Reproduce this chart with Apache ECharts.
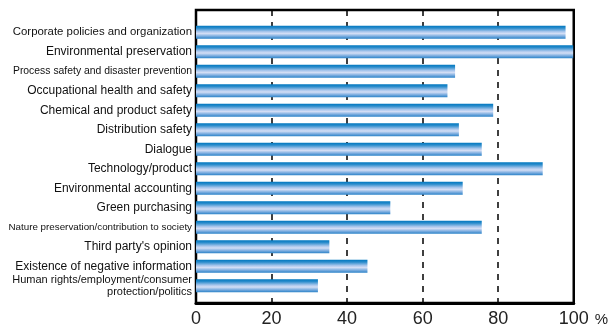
<!DOCTYPE html>
<html>
<head>
<meta charset="utf-8">
<script src="https://cdn.jsdelivr.net/npm/echarts@6/dist/echarts.min.js"></script>
<style>
  html, body { margin: 0; padding: 0; background: #ffffff; }
  #chart { width: 611px; height: 328px; }
</style>
</head>
<body>
<div id="chart"></div>
<script>
// Survey items, listed top to bottom
const categories = [
  'Corporate policies and organization',
  'Environmental preservation',
  'Process safety and disaster prevention',
  'Occupational health and safety',
  'Chemical and product safety',
  'Distribution safety',
  'Dialogue',
  'Technology/product',
  'Environmental accounting',
  'Green purchasing',
  'Nature preservation/contribution to society',
  "Third party's opinion",
  'Existence of negative information',
  'Human rights/employment/consumer\nprotection/politics'
];

// Share of reports covering each item (%)
const values = [97, 99, 68, 66, 78, 69, 75, 91, 70, 51, 75, 35, 45, 32];

// Percentage axis ticks
const xTicks = [0, 20, 40, 60, 80, 100];

// Long item names are set in a smaller type so they fit the label column
const labelSizes = {
  'Corporate policies and organization': 11.4,
  'Process safety and disaster prevention': 10.4,
  'Nature preservation/contribution to society': 9.8,
  'Human rights/employment/consumer\nprotection/politics': 11
};

const chart = echarts.init(document.getElementById('chart'), null, { renderer: 'canvas' });

const rich = {};
const styleKey = {};
categories.forEach((c, i) => {
  const key = 's' + i;
  styleKey[c] = key;
  const size = labelSizes[c] || 12;
  rich[key] = {
    fontFamily: 'Liberation Sans, Arial, sans-serif',
    fontSize: size,
    lineHeight: size + 1.5,
    color: '#111',
    align: 'right'
  };
});

const barGradient = new echarts.graphic.LinearGradient(0, 0, 0, 1, [
  { offset: 0, color: '#0077bf' },
  { offset: 0.18, color: '#2a8ccc' },
  { offset: 0.45, color: '#a9c6ec' },
  { offset: 0.6, color: '#d3def5' },
  { offset: 0.8, color: '#7eaee0' },
  { offset: 1, color: '#2a82c8' }
]);

chart.setOption({
  animation: false,
  backgroundColor: '#ffffff',
  grid: [
    // frame, percentage axis and dashed guides
    { left: 196, right: 34, top: 10, bottom: 20, show: true, borderColor: '#000', borderWidth: 2.5, backgroundColor: 'transparent' },
    // bar band, inset from the frame
    { left: 196, right: 34, top: 22.5, bottom: 32.5 }
  ],
  xAxis: [
    {
      gridIndex: 0,
      type: 'value',
      min: xTicks[0],
      max: xTicks[xTicks.length - 1],
      interval: xTicks[1] - xTicks[0],
      axisLine: { show: true, lineStyle: { color: '#000', width: 3 } },
      axisTick: { show: false },
      axisLabel: {
        margin: 7,
        fontFamily: 'Liberation Sans, Arial, sans-serif',
        fontSize: 18,
        color: '#222'
      },
      splitLine: {
        show: true,
        showMinLine: false,
        showMaxLine: false,
        lineStyle: { color: '#000', type: [6, 6], width: 1.5 }
      },
      name: '%',
      nameLocation: 'end',
      nameGap: 2,
      nameTextStyle: {
        fontFamily: 'Liberation Sans, Arial, sans-serif',
        fontSize: 15,
        color: '#222',
        verticalAlign: 'top',
        padding: [9, 0, 0, 0]
      }
    },
    {
      gridIndex: 1,
      type: 'value',
      min: xTicks[0],
      max: xTicks[xTicks.length - 1],
      show: false
    }
  ],
  yAxis: [
    { gridIndex: 0, type: 'value', show: false, min: 0, max: 1 },
    {
      gridIndex: 1,
      type: 'category',
      inverse: true,
      data: categories,
      axisLine: { show: false },
      axisTick: { show: false },
      splitLine: { show: false },
      axisLabel: {
        margin: 4,
        interval: 0,
        formatter: (v) => v.split('\n').map(line => '{' + styleKey[v] + '|' + line + '}').join('\n'),
        rich: rich
      }
    }
  ],
  series: [
    {
      type: 'bar',
      xAxisIndex: 1,
      yAxisIndex: 1,
      data: values,
      barWidth: 13,
      itemStyle: { color: barGradient },
      silent: true
    }
  ]
});
</script>
</body>
</html>
